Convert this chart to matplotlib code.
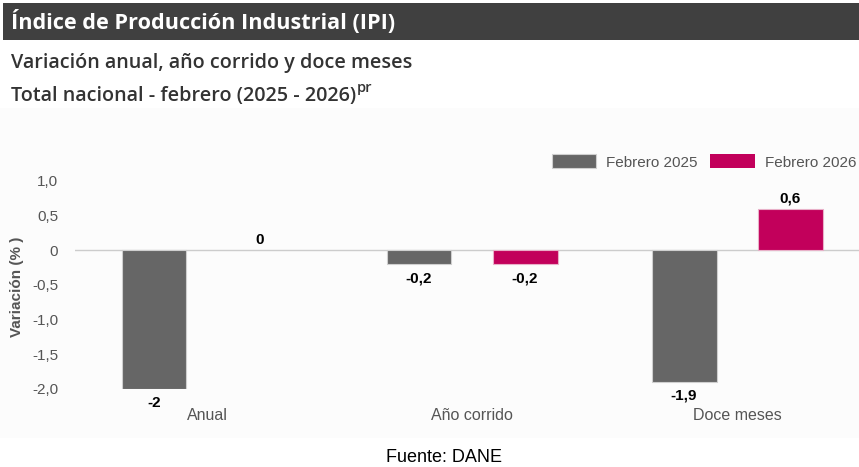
import matplotlib
matplotlib.use("Agg")
import matplotlib.pyplot as plt
import matplotlib.patches as mpatches
import numpy as np

plt.rcParams["font.family"] = ["Liberation Sans", "DejaVu Sans"]

# datos
CATEGORIAS = ["Anual", "Año corrido", "Doce meses"]
SERIES = ["Febrero 2025", "Febrero 2026"]
FEB_2025 = [-2.0, -0.2, -1.9]
FEB_2026 = [0.0, -0.2, 0.6]
ETQ_2025 = ["-2", "-0,2", "-1,9"]
ETQ_2026 = ["0", "-0,2", "0,6"]
YTICKS = [1.0, 0.5, 0.0, -0.5, -1.0, -1.5, -2.0]
YTICK_LBL = ["1,0", "0,5", "0", "-0,5", "-1,0", "-1,5", "-2,0"]

GRIS = "#666666"
MAGENTA = "#C2005B"

W, H = 859, 467
fig = plt.figure(figsize=(W / 100, H / 100), dpi=100)
fig.patch.set_facecolor("white")


def px(x0, y0, x1, y1):
    """caja en pixeles (arriba-izq) -> coords de figura"""
    return [x0 / W, 1 - y1 / H, (x1 - x0) / W, (y1 - y0) / H]


# fondo del area del grafico
bg = fig.add_axes(px(0, 108, W, 438))
bg.set_axis_off()
bg.add_patch(mpatches.Rectangle((0, 0), 1, 1, transform=bg.transAxes,
                                color="#FCFCFC", zorder=0))

# barra de titulo
hd = fig.add_axes(px(3, 3, W, 40))
hd.set_axis_off()
hd.add_patch(mpatches.Rectangle((0, 0), 1, 1, transform=hd.transAxes,
                                color="#404040"))
OPEN = ["Open Sans", "DejaVu Sans"]
fig.text(11 / W, 1 - 22 / H, "Índice de Producción Industrial (IPI)",
         color="white", fontsize=15.6, fontweight="bold",
         family=OPEN, ha="left", va="center")

fig.text(11 / W, 1 - 63 / H, "Variación anual, año corrido y doce meses",
         color="#333333", fontsize=14.2, fontweight="semibold",
         family=OPEN, ha="left", va="center")
t2 = fig.text(11 / W, 1 - 96 / H, "Total nacional - febrero (2025 - 2026)",
              color="#333333", fontsize=14.2, fontweight="semibold",
              family=OPEN, ha="left", va="center")
r = fig.canvas.get_renderer()
bb = t2.get_window_extent(renderer=r)
fig.text((bb.x1 + 1) / W, 1 - 88 / H, "pr", color="#333333",
         fontsize=10.5, fontweight="semibold",
         family=OPEN, ha="left", va="center")

# grafico de barras
ax = fig.add_axes(px(75, 181, W, 389))
ax.set_facecolor("none")
x = np.arange(len(CATEGORIAS))
ancho = 0.245
desp = 0.2
b1 = ax.bar(x - desp, FEB_2025, ancho, color=GRIS, edgecolor="#CFCFCF",
            linewidth=0.8, label=SERIES[0], zorder=3)
b2 = ax.bar(x + desp, FEB_2026, ancho, color=MAGENTA, edgecolor="#E8B0C8",
            linewidth=0.8, label=SERIES[1], zorder=3)
for rect, v in zip(b2, FEB_2026):
    if v == 0:
        rect.set_linewidth(0)
ax.axhline(0, color="#CCCCCC", linewidth=1.0, zorder=2)
ax.set_xlim(-0.498, 2.46)
ax.set_ylim(-2.0, 1.0)
ax.set_yticks(YTICKS)
ax.set_yticklabels(YTICK_LBL, color="#555555", fontsize=11)
ax.set_xticks(x)
ax.set_xticklabels(CATEGORIAS, color="#555555", fontsize=11.5)
ax.tick_params(axis="y", length=0, pad=12)
ax.tick_params(axis="x", length=0, pad=14)
for s in ax.spines.values():
    s.set_visible(False)

for barras, valores, etqs in [(b1, FEB_2025, ETQ_2025), (b2, FEB_2026, ETQ_2026)]:
    for rect, v, t in zip(barras, valores, etqs):
        cx = rect.get_x() + rect.get_width() / 2
        dy = -10 if v < 0 else 7.5
        ax.annotate(t, (cx, v), xytext=(0, dy), textcoords="offset points",
                    ha="center", va="center", fontsize=11,
                    fontweight="bold", color="black", annotation_clip=False)

fig.text(17 / W, 1 - 287 / H, "Variación (% )", rotation=90, color="#555555",
         fontsize=11, fontweight="bold", ha="center", va="center")

leg = fig.legend(handles=[b1, b2], labels=SERIES, loc="center left",
                 bbox_to_anchor=(538 / W, 1 - 162 / H), ncol=2, frameon=False,
                 fontsize=11, handlelength=2.9, handleheight=1.0,
                 handletextpad=0.65, columnspacing=0.85,
                 labelcolor="#555555")

fig.text(444 / W, 1 - 457 / H, "Fuente: DANE", color="black", fontsize=13,
         ha="center", va="center")

fig.savefig("out.png", dpi=100)
